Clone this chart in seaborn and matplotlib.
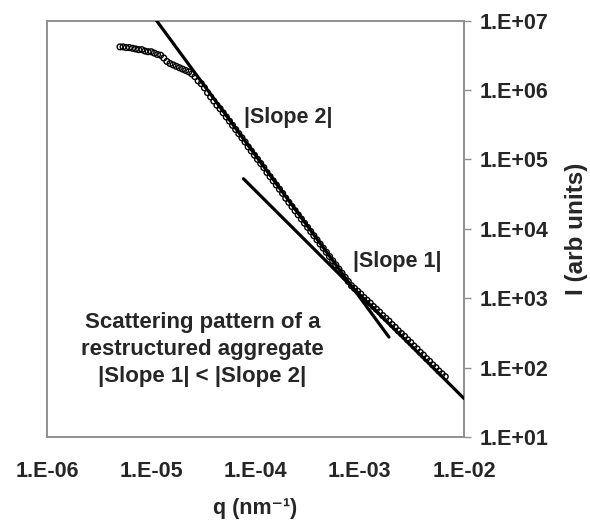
import numpy as np
import pandas as pd
import matplotlib
matplotlib.use("Agg")
import matplotlib.pyplot as plt
import seaborn as sns
from matplotlib.ticker import LogLocator, FuncFormatter, NullFormatter

sns.set_style("white")
plt.rcParams['font.family'] = ['Liberation Sans', 'DejaVu Sans']

# ---- data (log10 values) ----
log_q = [-5.30, -5.27, -5.24, -5.21, -5.18, -5.15, -5.12, -5.09, -5.06, -5.03,
         -5.00, -4.97, -4.94, -4.91, -4.88, -4.85, -4.82, -4.79, -4.76, -4.73,
         -4.70, -4.67, -4.64, -4.61, -4.58, -4.55, -4.52, -4.49, -4.46, -4.43,
         -4.40, -4.37, -4.34, -4.31, -4.28, -4.25, -4.22, -4.19, -4.16, -4.13,
         -4.10, -4.07, -4.04, -4.01, -3.98, -3.95, -3.92, -3.89, -3.86, -3.83,
         -3.80, -3.77, -3.74, -3.71, -3.68, -3.65, -3.62, -3.59, -3.56, -3.53,
         -3.50, -3.47, -3.44, -3.41, -3.38, -3.35, -3.32, -3.29, -3.26, -3.23,
         -3.20, -3.17, -3.14, -3.11, -3.08, -3.05, -3.02, -2.99, -2.96, -2.93,
         -2.90, -2.87, -2.84, -2.81, -2.78, -2.75, -2.72, -2.69, -2.66, -2.63,
         -2.60, -2.57, -2.54, -2.51, -2.48, -2.45, -2.42, -2.39, -2.36, -2.33,
         -2.30, -2.27, -2.24, -2.21, -2.18]
log_I = [6.62, 6.62, 6.61, 6.61, 6.60, 6.59, 6.58, 6.58, 6.56, 6.55,
         6.55, 6.53, 6.51, 6.50, 6.46, 6.41, 6.38, 6.36, 6.34, 6.32,
         6.30, 6.28, 6.26, 6.23, 6.19, 6.13, 6.09, 6.03, 5.96, 5.90,
         5.84, 5.78, 5.73, 5.67, 5.61, 5.55, 5.49, 5.43, 5.37, 5.31,
         5.25, 5.18, 5.12, 5.06, 5.00, 4.94, 4.88, 4.81, 4.75, 4.69,
         4.63, 4.57, 4.51, 4.44, 4.38, 4.32, 4.26, 4.20, 4.14, 4.08,
         4.02, 3.96, 3.90, 3.84, 3.78, 3.72, 3.66, 3.60, 3.54, 3.48,
         3.42, 3.36, 3.30, 3.24, 3.18, 3.14, 3.10, 3.06, 3.01, 2.97,
         2.93, 2.88, 2.84, 2.80, 2.75, 2.71, 2.67, 2.62, 2.58, 2.53,
         2.49, 2.45, 2.40, 2.36, 2.31, 2.27, 2.22, 2.18, 2.13, 2.09,
         2.04, 2.00, 1.95, 1.91, 1.87]

# fitted lines (end points, log10)
slope2_logq = [-4.95, -2.72]
slope2_logI = [7.00, 2.44]
slope1_logq = [-4.115, -2.00]
slope1_logI = [4.72, 1.555]

x_ticks = [1e-6, 1e-5, 1e-4, 1e-3, 1e-2]
y_ticks = [1e1, 1e2, 1e3, 1e4, 1e5, 1e6, 1e7]

df = pd.DataFrame({"q": np.power(10.0, log_q), "I": np.power(10.0, log_I)})
l2 = pd.DataFrame({"q": np.power(10.0, slope2_logq), "I": np.power(10.0, slope2_logI)})
l1 = pd.DataFrame({"q": np.power(10.0, slope1_logq), "I": np.power(10.0, slope1_logI)})

fig = plt.figure(figsize=(5.9, 5.24), dpi=100)
ax = fig.add_axes([47/590, 1-437/524, (464-47)/590, (437-20.5)/524])

sns.scatterplot(data=df, x="q", y="I", ax=ax, marker="o", s=17,
                facecolor="none", edgecolor="black", linewidth=1.0, zorder=3)
sns.lineplot(data=l2, x="q", y="I", ax=ax, color="black", linewidth=2.3,
             sort=False, estimator=None, zorder=4)
sns.lineplot(data=l1, x="q", y="I", ax=ax, color="black", linewidth=2.3,
             sort=False, estimator=None, zorder=4)

ax.set_xscale("log")
ax.set_yscale("log")
ax.set_xlim(1e-6, 1e-2)
ax.set_ylim(1e1, 1e7)

fmt = FuncFormatter(lambda v, p: "1.E{:+03d}".format(int(round(np.log10(v)))))
ax.set_xticks(x_ticks)
ax.set_yticks(y_ticks)
ax.xaxis.set_major_formatter(fmt)
ax.yaxis.set_major_formatter(fmt)
ax.xaxis.set_minor_locator(LogLocator(base=10, subs=np.arange(2, 10)))
ax.yaxis.set_minor_locator(LogLocator(base=10, subs=np.arange(2, 10)))
ax.xaxis.set_minor_formatter(NullFormatter())
ax.yaxis.set_minor_formatter(NullFormatter())

ax.yaxis.tick_right()
ax.yaxis.set_label_position("right")

for s in ax.spines.values():
    s.set_color("#909090")
    s.set_linewidth(1.4)

ax.tick_params(axis="x", which="major", direction="in", length=4, width=1,
               color="#909090", pad=17, labelsize=15.5)
ax.tick_params(axis="x", which="minor", direction="in", length=2, width=0.6,
               color="#c8c8c8")
ax.tick_params(axis="y", which="major", direction="out", length=5, width=1,
               color="#909090", pad=6, labelsize=15.5, right=True, left=False)
ax.tick_params(axis="y", which="minor", length=0)
for lab in ax.get_xticklabels() + ax.get_yticklabels():
    lab.set_fontweight("bold")

ax.set_xlabel("q (nm\u207b\u00b9)", fontsize=15.5, fontweight="bold", labelpad=12)
ax.set_ylabel("I (arb units)", fontsize=17.5, fontweight="bold", labelpad=12)

ax.text(10**-4.115, 10**5.60, "|Slope 2|", fontsize=15.5, fontweight="bold",
        ha="left", va="center")
ax.text(10**-3.067, 10**3.525, "|Slope 1|", fontsize=15.5, fontweight="bold",
        ha="left", va="center")
ax.text(10**-4.51, 10**2.26,
        "Scattering pattern of a\nrestructured aggregate\n|Slope 1| < |Slope 2|",
        fontsize=16, fontweight="bold", ha="center", va="center",
        linespacing=1.38)

fig.savefig("out.png", dpi=100, facecolor="white")
